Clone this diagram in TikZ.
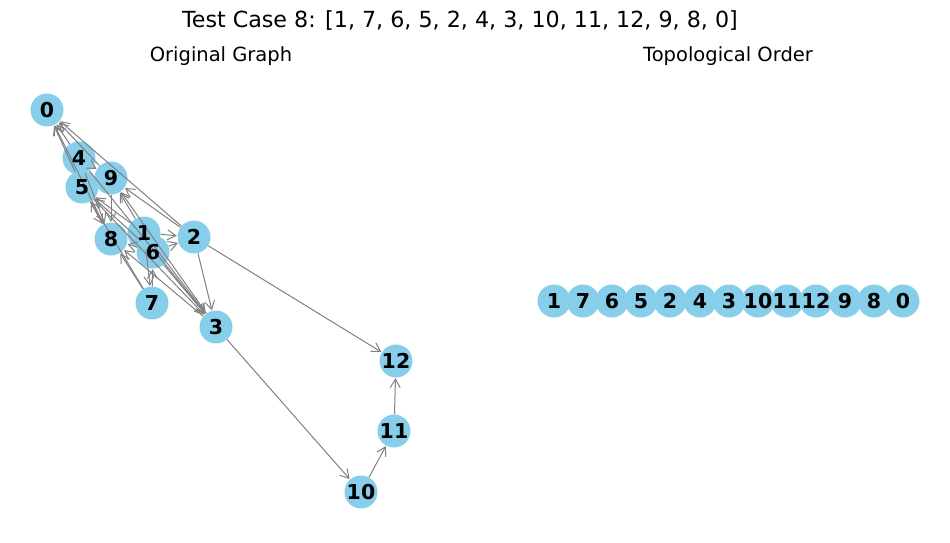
\documentclass[tikz,border=0pt]{standalone}
\usepackage{fontspec}
\setmainfont{DejaVu Sans}
\usetikzlibrary{arrows.meta}
\begin{document}
\begin{tikzpicture}[x=1pt,y=-1pt,
  vtx/.style={circle,fill=sky,draw=none,minimum size=33pt,inner sep=0pt},
  lbl/.style={font=\fontsize{20.5}{20.5}\selectfont\bfseries,inner sep=0pt,text=black},
  edge/.style={draw=gray,line width=1pt,-{Straight Barb[length=8.5pt,width=10pt,line width=1pt]},shorten >=0.5pt},
  ttl/.style={font=\fontsize{19.5}{19.5}\selectfont,inner sep=0pt}]
\definecolor{sky}{HTML}{87CEEB}
\useasboundingbox (0,0) rectangle (950,542);
\node[font=\fontsize{22.2}{22.2}\selectfont,inner sep=0pt] (title) at (460,21) {Test Case 8: [1, 7, 6, 5, 2, 4, 3, 10, 11, 12, 9, 8, 0]};
\node[ttl] (t1) at (221,56) {Original Graph};
\node[ttl] (t2) at (728,56) {Topological Order};
% left graph nodes
\foreach \n/\x/\y in {0/47/110,4/79/158,5/82/187,9/111/178,8/111/239,1/144/233,6/153/252,2/194/237,7/152/303,3/216/327,12/396/361,11/394/431,10/361/492}
  \node[vtx] (n\n) at (\x,\y) {};
% edges
\foreach \a/\b in {1/2,6/2,1/3,6/3,5/3,4/3,2/3,2/12,3/10,10/11,11/12,7/6,1/7,7/8,3/8,2/0,2/9,1/9,4/9,5/8,4/8,9/8,4/0,5/0,9/0,8/0,1/5,6/5,7/5,6/8,3/9}
  \draw[edge] (n\a) -- (n\b);
\foreach \n in {0,4,5,9,8,1,6,2,7,3,12,11,10}
  \node[lbl] (l\n) at (n\n) {\n};
% right row
\foreach \n/\x in {1/554,7/583,6/612,5/641,2/670,4/700,3/729,10/758,11/787,12/816,9/845,8/874,0/903}
  \node[vtx] (r\n) at (\x,301) {};
\foreach \n in {1,7,6,5,2,4,3,10,11,12,9,8,0}
  \node[lbl] (s\n) at (r\n) {\n};
\end{tikzpicture}
\end{document}
